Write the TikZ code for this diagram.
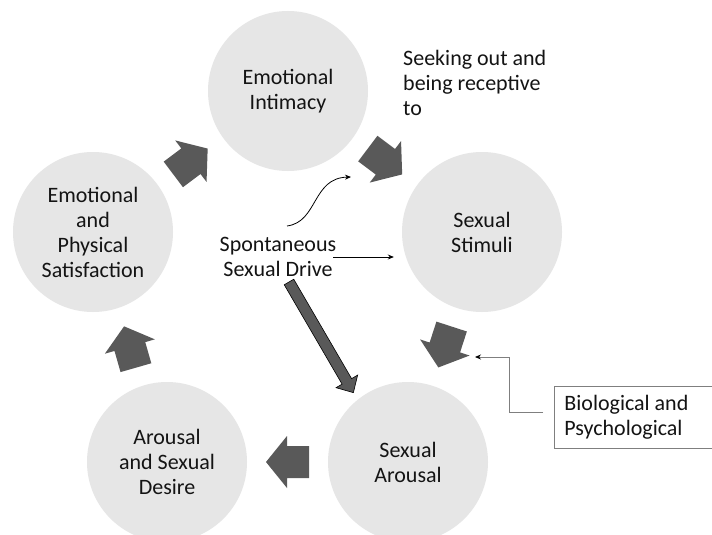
\documentclass[tikz,border=0pt]{standalone}
\usepackage{fontspec}
\setmainfont{Carlito}
\usetikzlibrary{calc,arrows.meta}
\definecolor{circgray}{HTML}{E6E6E6}
\definecolor{arrgray}{HTML}{595959}
\definecolor{txt}{HTML}{141414}
\definecolor{linegray}{HTML}{7F7F7F}
\begin{document}
\begin{tikzpicture}[x=1pt,y=-1pt,
  every node/.style={font=\fontsize{22}{25}\selectfont, text=txt},
  stage/.style={circle, fill=circgray, minimum size=160pt, inner sep=0pt, align=center},
  plaintext/.style={inner sep=0pt, align=center},
  thinarrow/.style={line width=0.8pt, -{Stealth[length=6pt,width=5pt]}},
  cyc/.pic={\fill[arrgray] (-21.5,-16) -- (0.5,-16) -- (0.5,-26) -- (21.5,0) -- (0.5,26) -- (0.5,16) -- (-21.5,16) -- cycle;}
]
\useasboundingbox[fill=white] (0,0) rectangle (712,535);

% stages
\node[stage] (int)  at (288,91)  {Emotional\\Intimacy};
\node[stage] (stim) at (482,232) {Sexual\\Stimuli};
\node[stage] (aro)  at (408,462) {Sexual\\Arousal};
\node[stage] (des)  at (167,462) {Arousal\\and Sexual\\Desire};
\node[stage] (sat)  at (93,232)  {Emotional\\and\\Physical\\Satisfaction};

% cycle arrows
\pic[rotate=37]   at ($(sat)!0.5!(int)$)  {cyc};
\pic[rotate=-37]  at ($(int)!0.5!(stim)$) {cyc};
\pic[rotate=-108] at ($(stim)!0.5!(aro)$) {cyc};
\pic[rotate=180]  at ($(aro)!0.5!(des)$)  {cyc};
\pic[rotate=106]  at ($(des)!0.5!(sat)$)  {cyc};

% free texts
\node[plaintext] (spont) at (278,257) {Spontaneous\\Sexual Drive};
\node[plaintext, align=flush left, anchor=north west] (seek) at (403,50) {Seeking out and\\being receptive\\to};
\node[draw=linegray, line width=0.8pt, anchor=north west, minimum height=62pt,
      text width=140pt, inner xsep=10pt, inner ysep=0pt, align=flush left] (bio) at (554,386)
      {Biological and\\Psychological};

% big diagonal arrow
\begin{scope}[shift={(289,282)}, rotate=-59.8]
  \filldraw[fill=arrgray, draw=black, line width=0.6pt]
    (0,-5.5) -- (115,-5.5) -- (115,-12.5) -- (128,0) -- (115,12.5) -- (115,5.5) -- (0,5.5) -- cycle;
\end{scope}

% thin arrows
\coordinate (curveStart) at (287,226);
\coordinate (curveEnd) at (351,177);
\draw[thinarrow] (curveStart) .. controls (318,222) and (312,178) .. (curveEnd);
\draw[thinarrow] ([xshift=-3pt]spont.east) -- ($(spont.east -| stim.west)+(-8,0)$);
\coordinate (bioTip) at (475,357);
\draw[line width=0.8pt, draw=linegray, -{Stealth[length=6pt,width=5pt,color=black]}]
  ($(bio.west)+(-11,-5)$) -- ++(-34,0) |- (bioTip);
\end{tikzpicture}
\end{document}
